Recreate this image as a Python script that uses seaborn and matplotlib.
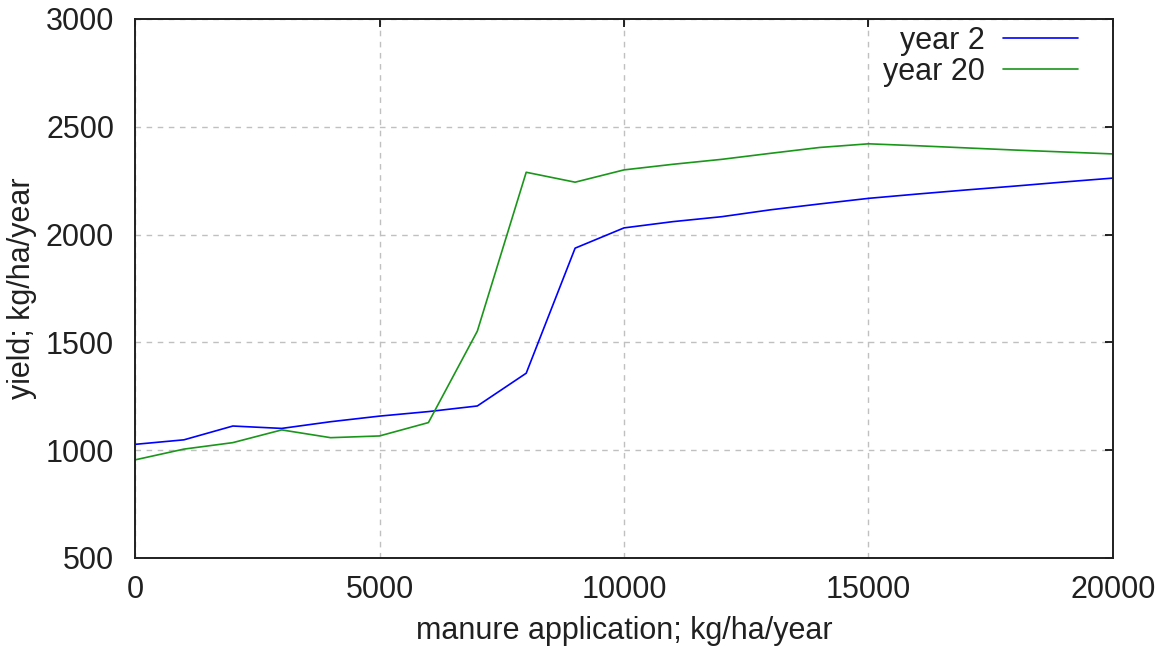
# Yield vs manure application, two years

import pandas as pd
import matplotlib
matplotlib.use('Agg')
import matplotlib.pyplot as plt
import seaborn as sns

# Manure application levels (kg/ha/year)
manure = [0, 1000, 2000, 3000, 4000, 5000, 6000, 7000, 8000, 9000, 10000,
          11000, 12000, 13000, 14000, 15000, 16000, 17000, 18000, 19000, 20000]

# Yield (kg/ha/year)
yield_year2 = [1027, 1048, 1112, 1101, 1132, 1158, 1179, 1205, 1357, 1937, 2031,
               2060, 2083, 2115, 2142, 2168, 2188, 2207, 2225, 2244, 2262]
yield_year20 = [955, 1005, 1035, 1094, 1058, 1066, 1128, 1552, 2289, 2243, 2300,
                2326, 2349, 2377, 2404, 2421, 2412, 2402, 2392, 2383, 2374]

series_names = ['year 2', 'year 20']
series_colors = ['#0000ff', '#1a961a']

# Build long-form table for seaborn
df = pd.concat([
    pd.DataFrame({'manure': manure, 'yield': yield_year2, 'series': series_names[0]}),
    pd.DataFrame({'manure': manure, 'yield': yield_year20, 'series': series_names[1]}),
])

sns.set_style('white')
plt.rcParams['font.family'] = ['Liberation Sans', 'DejaVu Sans']
plt.rcParams['text.color'] = '#202020'

fig = plt.figure(figsize=(11.63, 6.52), dpi=100)
ax = fig.add_axes([0.1161, 0.1442, 0.8409, 0.8267])

sns.lineplot(
    data=df, x='manure', y='yield', hue='series',
    palette=dict(zip(series_names, series_colors)),
    linewidth=1.2, ax=ax
)

ax.set_xlim(0, 20000)
ax.set_ylim(500, 3000)
ax.set_xticks(range(0, 20001, 5000))
ax.set_yticks(range(500, 3001, 500))

# gnuplot-like look: grey dashed grid, inward ticks on all sides
ax.grid(True, color='#c0c0c0', linestyle=(0, (4, 4)), linewidth=1.0)
ax.tick_params(direction='in', length=6, width=1.2, labelsize=22,
               top=True, right=True, color='black', labelcolor='#202020')
ax.tick_params(axis='x', pad=12)
ax.tick_params(axis='y', pad=15)
for spine in ax.spines.values():
    spine.set_color('#202020')
    spine.set_linewidth(1.4)

ax.set_xlabel('manure application; kg/ha/year', fontsize=22, labelpad=8,
              color='#202020')
ax.set_ylabel('yield; kg/ha/year', fontsize=22, labelpad=6, color='#202020')

ax.legend(loc='upper right', frameon=False, fontsize=22, markerfirst=False,
          handlelength=2.45, handletextpad=0.6, labelspacing=0.02,
          borderaxespad=0.1, bbox_to_anchor=(0.98, 1.015))

fig.savefig('out.png', dpi=100)
